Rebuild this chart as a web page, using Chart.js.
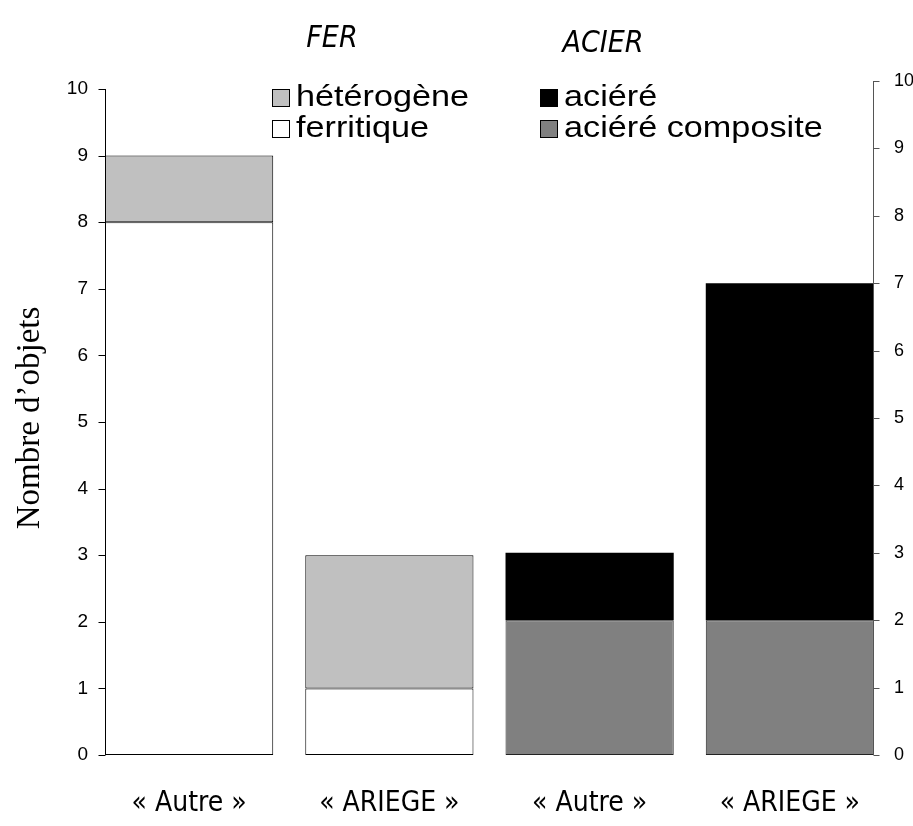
<!DOCTYPE html>
<html>
<head>
<meta charset="utf-8">
<script src="https://cdn.jsdelivr.net/npm/chart.js@4.4.1/dist/chart.umd.min.js"></script>
<style>
  html, body { margin: 0; padding: 0; background: #fff; }
  #wrap { width: 913px; height: 826px; position: relative; }
</style>
</head>
<body>
<div id="wrap"><canvas id="chart"></canvas></div>
<script>
// categories (bottom labels)
const categories = ['« Autre »', '« ARIEGE »', '« Autre »', '« ARIEGE »'];

// FER (left axis)
const ferritique = [8, 1, null, null];
const heterogene = [1, 2, null, null];
// ACIER (right axis)
const acierComposite = [null, null, 2, 2];
const acier = [null, null, 1, 5];

const leftTicks = [0, 1, 2, 3, 4, 5, 6, 7, 8, 9, 10];
const groupTitles = ['FER', 'ACIER'];

// axis lines drawn at the outer edges of the bars, plus legend and group titles
const decorations = {
    id: 'decorations',
    afterDatasetsDraw(chart) {
        const ctx = chart.ctx;
        const yL = chart.scales.y;
        const yR = chart.scales.y2;

        const first = chart.getDatasetMeta(0).data[0].getProps(['x', 'width'], true);
        const last = chart.getDatasetMeta(3).data[3].getProps(['x', 'width'], true);
        const axL = Math.round(first.x - first.width / 2) + 0.5;
        const axR = Math.round(last.x + last.width / 2) - 0.5;

        ctx.save();
        ctx.lineWidth = 1;
        ctx.strokeStyle = '#000';
        ctx.beginPath();
        ctx.moveTo(axL, yL.getPixelForValue(0));
        ctx.lineTo(axL, yL.getPixelForValue(leftTicks[leftTicks.length - 1]));
        yL.ticks.forEach(t => {
            const py = Math.round(yL.getPixelForValue(t.value)) + 0.5;
            ctx.moveTo(axL - 7, py);
            ctx.lineTo(axL, py);
        });
        ctx.stroke();

        ctx.strokeStyle = '#555';
        ctx.beginPath();
        ctx.moveTo(axR, yR.getPixelForValue(0));
        ctx.lineTo(axR, yR.getPixelForValue(10));
        yR.ticks.forEach(t => {
            const py = Math.round(yR.getPixelForValue(t.value)) + 0.5;
            ctx.moveTo(axR, py);
            ctx.lineTo(axR + 6, py);
        });
        ctx.stroke();

        // legend, two columns
        const items = [
            { ds: 1, x: 272, y: 89 },
            { ds: 0, x: 272, y: 120 },
            { ds: 3, x: 540, y: 89 },
            { ds: 2, x: 540, y: 120 }
        ];
        items.forEach(it => {
            const ds = chart.data.datasets[it.ds];
            ctx.fillStyle = ds.backgroundColor;
            ctx.fillRect(it.x, it.y, 18, 18);
            ctx.strokeStyle = '#000';
            ctx.strokeRect(it.x + 0.5, it.y + 0.5, 17, 17);
            ctx.save();
            ctx.fillStyle = '#000';
            ctx.font = '29px "Liberation Sans", Arial, sans-serif';
            ctx.textBaseline = 'alphabetic';
            ctx.translate(it.x + 24, it.y + 17);
            ctx.scale(1.18, 1);
            ctx.fillText(ds.label, 0, 0);
            ctx.restore();
        });

        // group titles
        ctx.fillStyle = '#000';
        ctx.font = 'italic 30px "Liberation Sans Narrow", "DejaVu Sans Condensed", sans-serif';
        ctx.textAlign = 'center';
        ctx.textBaseline = 'alphabetic';
        ctx.fillText(groupTitles[0], 332, 47);
        ctx.fillText(groupTitles[1], 603, 52);
        ctx.restore();
    }
};

const ctx = document.getElementById('chart').getContext('2d');
new Chart(ctx, {
    type: 'bar',
    data: {
        labels: categories,
        datasets: [
            {
                label: 'ferritique',
                data: ferritique,
                yAxisID: 'y',
                backgroundColor: '#ffffff',
                borderColor: '#000',
                borderWidth: 1,
                borderSkipped: false
            },
            {
                label: 'hétérogène',
                data: heterogene,
                yAxisID: 'y',
                backgroundColor: '#c0c0c0',
                borderColor: '#000',
                borderWidth: 1,
                borderSkipped: false
            },
            {
                label: 'aciéré composite',
                data: acierComposite,
                yAxisID: 'y2',
                backgroundColor: '#808080',
                borderColor: '#222',
                borderWidth: 1,
                borderSkipped: false
            },
            {
                label: 'aciéré',
                data: acier,
                yAxisID: 'y2',
                backgroundColor: '#000000',
                borderWidth: 0
            }
        ]
    },
    options: {
        responsive: true,
        maintainAspectRatio: false,
        animation: false,
        categoryPercentage: 1,
        barPercentage: 0.84,
        layout: { padding: { top: 81, left: 0, right: 0, bottom: 0 } },
        plugins: {
            legend: { display: false },
            tooltip: { enabled: false }
        },
        scales: {
            x: {
                stacked: true,
                grid: { display: false, drawTicks: false },
                border: { display: false },
                ticks: {
                    color: '#000',
                    padding: 32,
                    maxRotation: 0,
                    autoSkip: false,
                    font: { family: '"Liberation Sans Narrow", "DejaVu Sans Condensed", sans-serif', size: 28 }
                },
                afterFit(scale) { scale.height = 71; }
            },
            y: {
                position: 'left',
                stacked: true,
                min: 0,
                max: 10.12,
                grid: { display: false, drawTicks: false },
                border: { display: false },
                ticks: {
                    stepSize: 1,
                    includeBounds: false,
                    padding: 1,
                    color: '#000',
                    font: { family: '"Liberation Sans", Arial, sans-serif', size: 19 }
                },
                title: {
                    display: true,
                    text: 'Nombre d’objets',
                    color: '#000',
                    padding: { top: 11, bottom: 0 },
                    font: { family: '"Liberation Serif", "Times New Roman", serif', size: 33 }
                },
                afterFit(scale) { scale.width = 89; }
            },
            y2: {
                position: 'right',
                stacked: true,
                min: 0,
                max: 10,
                grid: { display: false, drawTicks: false },
                border: { display: false },
                ticks: {
                    stepSize: 1,
                    padding: 4,
                    color: '#000',
                    font: { family: '"Liberation Sans", Arial, sans-serif', size: 18 }
                },
                afterFit(scale) { scale.width = 23; }
            }
        }
    },
    plugins: [decorations]
});
</script>
</body>
</html>
